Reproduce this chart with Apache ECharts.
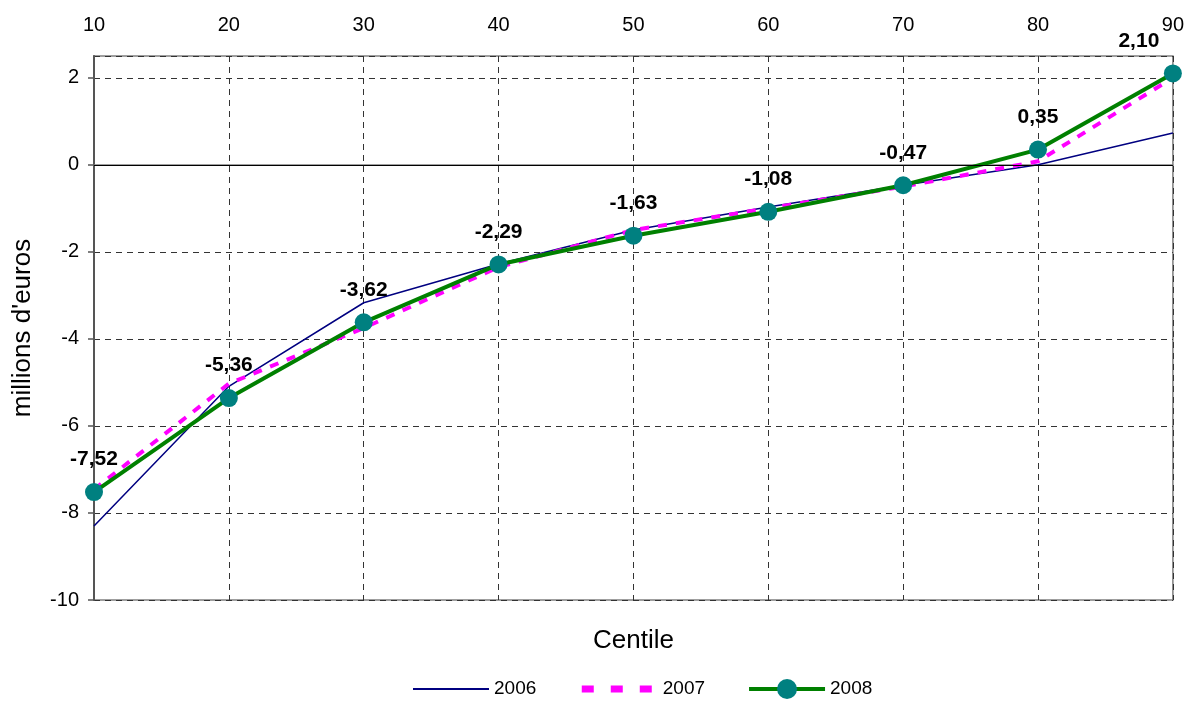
<!DOCTYPE html>
<html>
<head>
<meta charset="utf-8">
<script src="https://cdn.jsdelivr.net/npm/echarts@6/dist/echarts.min.js"></script>
<style>
  html, body { margin: 0; padding: 0; background: #fff; }
  #main { width: 1187px; height: 704px; }
</style>
</head>
<body>
<div id="main"></div>
<script>
// centiles (x axis, on top)
const centiles = ['10', '20', '30', '40', '50', '60', '70', '80', '90'];
// values, millions d'euros
const s2006 = [-8.30, -5.09, -3.17, -2.28, -1.50, -0.97, -0.47, 0.00, 0.73];
const s2007 = [-7.46, -5.03, -3.75, -2.35, -1.50, -1.00, -0.50, 0.08, 2.00];
const s2008 = [-7.52, -5.36, -3.62, -2.29, -1.63, -1.08, -0.47, 0.35, 2.10];

const font = 'Liberation Sans, Arial, sans-serif';
// virgule décimale
const fmt = v => v.toFixed(2).replace('.', ',');

const chart = echarts.init(document.getElementById('main'));

const option = {
    animation: false,
    backgroundColor: '#fff',
    grid: {
        left: 94, right: 14, top: 56, bottom: 104,
        show: true,
        borderColor: '#808080',
        borderWidth: 1.5
    },
    legend: {
        bottom: 0,
        left: 407,
        itemWidth: 76,
        itemHeight: 25,
        itemGap: 42,
        textStyle: { fontFamily: font, fontSize: 19, color: '#000' },
        data: [
            { name: '2006', itemStyle: { opacity: 0 }, lineStyle: { width: 2 } },
            { name: '2007', itemStyle: { opacity: 0 }, lineStyle: { width: 7, type: [12, 17] } },
            { name: '2008', lineStyle: { width: 4 } }
        ]
    },
    xAxis: [{
        type: 'category',
        position: 'top',
        data: centiles,
        boundaryGap: false,
        axisLine: { show: true, lineStyle: { color: '#808080', width: 1.5 } },
        axisTick: { show: false },
        axisLabel: { fontFamily: font, fontSize: 20, color: '#000', margin: 21 },
        splitLine: { show: true, lineStyle: { color: '#333', type: [6, 5], width: 1 } }
    }, {
        // axe du bas : seulement pour le titre
        type: 'category',
        position: 'bottom',
        data: centiles,
        boundaryGap: false,
        axisLine: { show: false },
        axisTick: { show: false },
        axisLabel: { show: false },
        splitLine: { show: false },
        name: 'Centile',
        nameLocation: 'middle',
        nameGap: 28,
        nameTextStyle: { fontFamily: font, fontSize: 26, color: '#000' }
    }],
    yAxis: {
        type: 'value',
        min: -10,
        max: 2.5,
        interval: 2,
        name: "millions d'euros",
        nameLocation: 'middle',
        nameGap: 58,
        nameTextStyle: { fontFamily: font, fontSize: 26, color: '#000' },
        axisLine: { show: true, lineStyle: { color: '#555', width: 2 } },
        axisTick: { show: true, length: 6, lineStyle: { color: '#555', width: 1.5 } },
        axisLabel: { fontFamily: font, fontSize: 20, color: '#000', margin: 15, showMaxLabel: false },
        splitLine: { show: true, lineStyle: { color: '#333', type: [6, 5], width: 1 } }
    },
    series: [{
        name: '2006',
        type: 'line',
        data: s2006,
        symbol: 'none',
        lineStyle: { color: '#000080', width: 1.5 },
        itemStyle: { color: '#000080' },
        z: 2,
        markLine: {
            silent: true,
            symbol: 'none',
            label: { show: false },
            lineStyle: { color: '#000', type: 'solid', width: 1 },
            data: [{ yAxis: 0 }]
        }
    }, {
        name: '2007',
        type: 'line',
        data: s2007,
        symbol: 'none',
        lineStyle: { color: '#ff00ff', width: 4, type: [9, 9] },
        itemStyle: { color: '#ff00ff' },
        z: 3
    }, {
        name: '2008',
        type: 'line',
        data: s2008.map((v, i) => i === s2008.length - 1
            ? { value: v, label: { offset: [-34, 0] } }
            : v),
        symbol: 'circle',
        symbolSize: 18,
        showAllSymbol: true,
        lineStyle: { color: '#008000', width: 4 },
        itemStyle: { color: '#008080' },
        z: 4,
        label: {
            show: true,
            position: 'top',
            distance: 13,
            fontFamily: font,
            fontSize: 21,
            fontWeight: 'bold',
            color: '#000',
            formatter: p => fmt(p.value)
        }
    }]
};

chart.setOption(option);
</script>
</body>
</html>
